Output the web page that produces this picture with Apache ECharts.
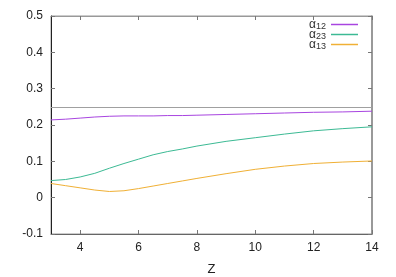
<!DOCTYPE html>
<html>
<head>
<meta charset="utf-8">
<script src="https://cdn.jsdelivr.net/npm/echarts@6/dist/echarts.min.js"></script>
<style>html,body{margin:0;padding:0;background:#fff}#c{width:396px;height:277px}</style>
</head>
<body>
<div id="c"></div>
<script>
const zValues = [3, 3.5, 4, 4.5, 5, 5.5, 6, 6.5, 7, 7.5, 8, 9, 10, 11, 12, 13, 14];
const alpha12 = [0.214, 0.216, 0.219, 0.222, 0.224, 0.225, 0.225, 0.225, 0.226, 0.226, 0.227, 0.229, 0.231, 0.233, 0.235, 0.236, 0.238];
const alpha23 = [0.047, 0.050, 0.057, 0.067, 0.081, 0.094, 0.106, 0.118, 0.127, 0.134, 0.142, 0.155, 0.165, 0.175, 0.184, 0.190, 0.195];
const alpha13 = [0.039, 0.033, 0.027, 0.021, 0.017, 0.019, 0.025, 0.032, 0.039, 0.046, 0.053, 0.066, 0.078, 0.087, 0.094, 0.098, 0.101];
const seriesNames = ['α12', 'α23', 'α13'];
const refLevel = 0.25;
const xTicks = [4, 6, 8, 10, 12, 14];
const xRange = [3, 14];
const yRange = [-0.1, 0.5];
const yStep = 0.1;

const colors = ['#a845e0', '#3cba94', '#f0b035'];
const pair = (xs, ys) => xs.map((x, i) => [x, ys[i]]);
const font = 'Liberation Sans, Arial, sans-serif';

const chart = echarts.init(document.getElementById('c'), null, {renderer: 'canvas'});
const tickStyle = {show: true, inside: true, length: 4, lineStyle: {color: '#777', width: 1}};
chart.setOption({
  animation: false,
  backgroundColor: '#fff',
  grid: {left: 51, right: 24, top: 16, bottom: 43, containLabel: false, outerBoundsMode: 'none',
         show: true, borderColor: '#999', borderWidth: 1, backgroundColor: 'transparent'},
  legend: {
    orient: 'vertical', right: 38, top: 18, align: 'right', icon: 'rect', padding: 0,
    itemWidth: 27, itemHeight: 1.5, itemGap: -3,
    data: seriesNames,
    formatter: n => '{a|α}{s|' + n.slice(1) + '}',
    textStyle: {
      color: '#333', fontFamily: font, fontSize: 12, lineHeight: 13,
      rich: {a: {fontSize: 12, fontFamily: font, color: '#333', lineHeight: 13, verticalAlign: 'middle'},
             s: {fontSize: 9, fontFamily: font, color: '#333', lineHeight: 13, verticalAlign: 'bottom'}}
    }
  },
  xAxis: [{
    type: 'value', min: xRange[0], max: xRange[1], position: 'bottom',
    name: 'Z', nameLocation: 'middle', nameGap: 29,
    nameTextStyle: {fontFamily: font, fontSize: 13, color: '#222'},
    axisLine: {show: true, onZero: false, lineStyle: {color: '#666', width: 1}},
    axisTick: Object.assign({customValues: xTicks}, tickStyle),
    axisLabel: {customValues: xTicks, fontFamily: font, fontSize: 12, color: '#222', margin: 8},
    splitLine: {show: false}
  }, {
    type: 'value', min: xRange[0], max: xRange[1], position: 'top',
    axisLine: {show: true, onZero: false, lineStyle: {color: '#999', width: 1}},
    axisTick: Object.assign({customValues: xTicks}, tickStyle),
    axisLabel: {show: false}, splitLine: {show: false}
  }],
  yAxis: [{
    type: 'value', min: yRange[0], max: yRange[1], interval: yStep, position: 'left',
    axisLine: {show: true, onZero: false, lineStyle: {color: '#222', width: 1}},
    axisTick: tickStyle,
    axisLabel: {fontFamily: font, fontSize: 12, color: '#222', margin: 8,
      formatter: v => String(Math.round(v * 10) / 10)},
    splitLine: {show: false}
  }, {
    type: 'value', min: yRange[0], max: yRange[1], interval: yStep, position: 'right',
    axisLine: {show: true, onZero: false, lineStyle: {color: '#888', width: 1.5}},
    axisTick: tickStyle, axisLabel: {show: false}, splitLine: {show: false}
  }],
  series: [alpha12, alpha23, alpha13].map((ys, i) => ({
    name: seriesNames[i], type: 'line', data: pair(zValues, ys),
    smooth: false, showSymbol: false, symbol: 'none',
    color: colors[i],
    lineStyle: {color: colors[i], width: 1},
    markLine: i === 0 ? {
      symbol: 'none', silent: true, label: {show: false},
      lineStyle: {color: '#a0a0a0', width: 1, type: 'solid'},
      data: [{yAxis: refLevel}]
    } : undefined
  }))
});
</script>
</body>
</html>
